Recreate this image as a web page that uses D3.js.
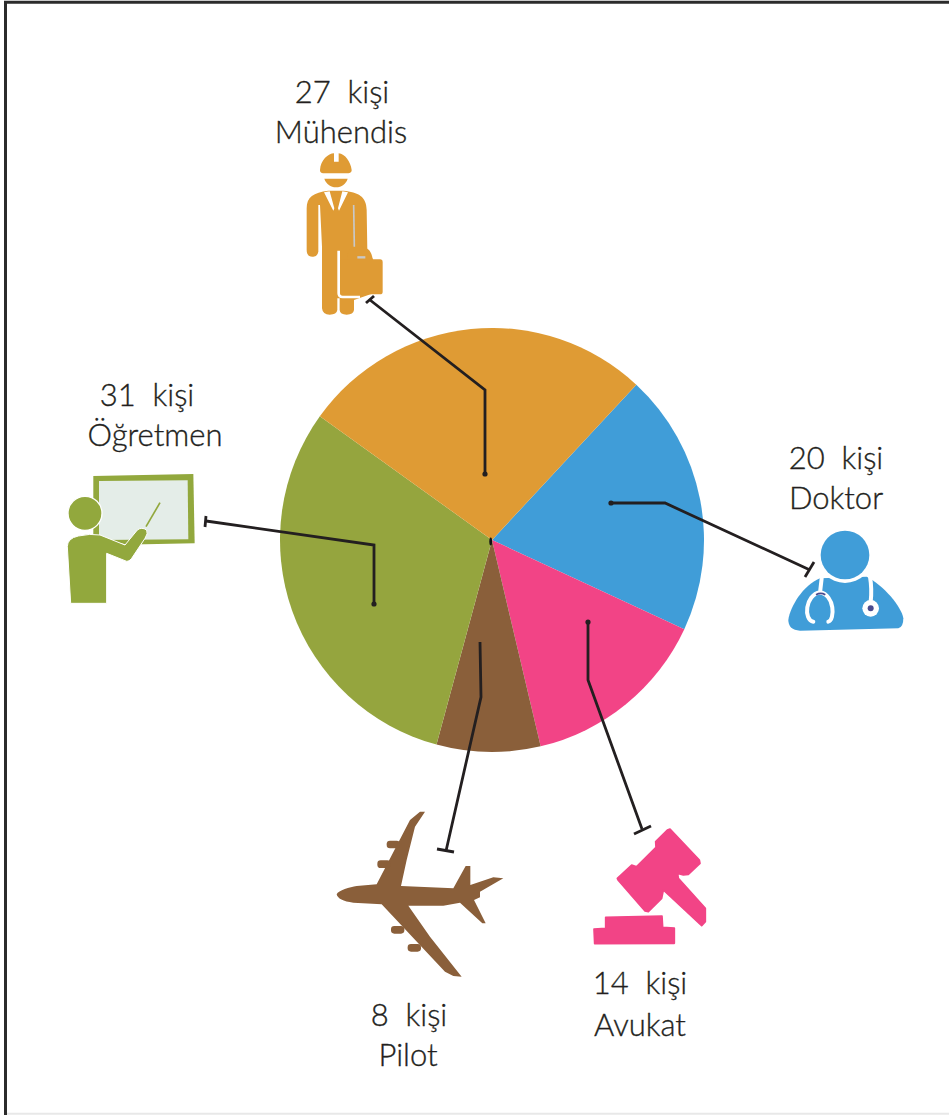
<!DOCTYPE html>
<html>
<head>
<meta charset="utf-8">
<script src="https://cdn.jsdelivr.net/npm/d3@7"></script>
<style>
  html, body { margin: 0; background: #fff; }
  text { font-family: "Lato", sans-serif; font-weight: 300; font-size: 31px; fill: #231f20; stroke: #231f20; stroke-width: 0.35px; text-anchor: middle; white-space: pre; }
</style>
</head>
<body>
<script>
// veriler: pasta dilimleri saat yönünde, Doktor'dan başlıyor
const jobs = ["Doktor", "Avukat", "Pilot", "Öğretmen", "Mühendis"];
const people = [20, 14, 8, 31, 27];
// resimdeki dilimler etiketlerle birebir orantılı değil, açılar
const shares = [20, 14.4, 7.9, 30.7, 27];
const colors = ["#409dd8", "#f24486", "#8a5f3a", "#95a53e", "#df9b34"];

const width = 949, height = 1115;
const cx = 492, cy = 540, radius = 212;
const startDeg = 42.9;

const svg = d3.select("body").append("svg")
  .attr("width", width)
  .attr("height", height)
  .attr("viewBox", [0, 0, width, height])
  .style("display", "block");

// çerçeve
svg.append("path")
  .attr("d", "M7,1113.8H949")
  .attr("stroke", "#e8e8e8")
  .attr("stroke-width", 2);
svg.append("path")
  .attr("d", "M5.5,1115V2.2H949")
  .attr("fill", "none")
  .attr("stroke", "#2b2b2b")
  .attr("stroke-width", 3);

// pasta
const pie = d3.pie().sort(null)
  .startAngle(startDeg * Math.PI / 180)
  .endAngle((startDeg + 360) * Math.PI / 180);
const arc = d3.arc().innerRadius(0).outerRadius(radius);

svg.append("g")
  .attr("transform", `translate(${cx},${cy})`)
  .selectAll("path")
  .data(pie(shares))
  .join("path")
  .attr("d", arc)
  .attr("fill", (d, i) => colors[i]);

// etiketler ve kılavuz çizgileri, jobs sırasıyla
const layout = [
  { label: [836, 469, 836, 509], leader: [[611, 503], [665, 503], [810, 570]], cap: [[814, 562], [805, 577]], dot: true },
  { label: [640, 994, 640, 1036], leader: [[588, 622], [588, 680], [642, 829]], cap: [[634, 834], [651, 826]], dot: true },
  { label: [409, 1026, 408, 1066], leader: [[480, 642], [481, 697], [446, 851]], cap: [[437, 849], [454, 852]], dot: false },
  { label: [147, 406, 155, 446], leader: [[374, 604], [374, 545], [206, 521]], cap: [[206, 516], [205, 527]], dot: true },
  { label: [342, 103, 341, 143], leader: [[485, 474], [485, 390], [370, 300]], cap: [[366, 303], [374, 296]], dot: true }
];

const line = d3.line();
const notes = svg.append("g").selectAll("g").data(layout).join("g");

notes.append("path")
  .attr("d", d => line(d.leader))
  .attr("fill", "none")
  .attr("stroke", "#231f20")
  .attr("stroke-width", 2.8);
notes.append("path")
  .attr("d", d => line(d.cap))
  .attr("stroke", "#231f20")
  .attr("stroke-width", 2.8);
notes.filter(d => d.dot).append("circle")
  .attr("cx", d => d.leader[0][0])
  .attr("cy", d => d.leader[0][1])
  .attr("r", 2.6)
  .attr("fill", "#231f20");

notes.append("text")
  .attr("x", d => d.label[0])
  .attr("y", d => d.label[1])
  .text((d, i) => `${people[i]}  kişi`);
notes.append("text")
  .attr("x", d => d.label[2])
  .attr("y", d => d.label[3])
  .text((d, i) => jobs[i]);

svg.append("ellipse").attr("cx", cx - 1.3).attr("cy", cy + 1.5).attr("rx", 1.4).attr("ry", 4).attr("fill", "#111");

// simgeler: yolların birimi büyütülmüş kırpıntı pikseli (1/3 ölçek)
const icon = (x, y) => svg.append("g").attr("transform", `translate(${x},${y}) scale(${1 / 3})`);

// Mühendis
const eng = icon(260, 60).attr("fill", colors[4]);
eng.append("path").attr("d", "M180,330C182,300 205,280 222,280L222,305L236,305L236,280C255,282 272,305 275,330C275,338 268,340 260,340L195,340C186,340 180,338 180,330Z");
eng.append("path").attr("d", "M193,356L263,356C258,372 245,382 228,382C212,382 198,372 193,356Z");
eng.append("path").attr("d", "M140,445C140,410 160,398 205,392L250,392C295,396 320,410 320,450L322,570L335,590L340,600L340,700L282,720L282,750Q280,764 260,764Q240,764 239,750L239,715L232,715L232,750Q230,764 209,764Q188,764 186,745L186,560L180,435L175,435L175,575Q172,592 157,590Q140,590 140,570Z");
eng.append("path").attr("d", "M192,397L209,394L223,445L220,452ZM264,397L247,394L234,445L237,452Z").attr("fill", "#fff");
eng.append("path").attr("d", "M281,435L283,560").attr("fill", "none").attr("stroke", "#c8c8c8").attr("stroke-width", 5);
eng.append("path").attr("d", "M236,572L236,700Q236,711 248,711L300,711").attr("fill", "none").attr("stroke", "#fff").attr("stroke-width", 8);
eng.append("path").attr("d", "M262,600C262,570 270,560 300,560C325,560 336,575 338,600Z");
eng.append("path").attr("d", "M292,592H316").attr("stroke", "#c8c8c8").attr("stroke-width", 7);
eng.append("rect").attr("x", 241).attr("y", 598).attr("width", 127).attr("height", 105).attr("rx", 8);

// Öğretmen
const tea = icon(50, 370).attr("fill", "#92a83d");
tea.append("path").attr("d", "M130,318L430,312L434,520L285,523L130,525Z");
tea.append("path").attr("d", "M147,333L413,331L415,508L147,510Z").attr("fill", "#e4ede8");
tea.append("path").attr("d", "M288,470L330,398").attr("fill", "none").attr("stroke", "#92a83d").attr("stroke-width", 5);
tea.append("path").attr("d", "M170,512L225,525").attr("fill", "none").attr("stroke", "#fff").attr("stroke-width", 5);
tea.append("circle").attr("cx", 105).attr("cy", 430).attr("r", 51).attr("stroke", "#fff").attr("stroke-width", 4);
tea.append("path").attr("d", "M52,530Q52,505 85,498Q120,490 150,495L225,525L262,480Q275,470 290,480Q295,490 285,505L245,565Q235,578 225,572L170,550L170,700L62,700Z").attr("stroke", "#fff").attr("stroke-width", 3);

// Doktor
const doc = icon(770, 430).attr("fill", colors[0]);
doc.append("path").attr("d", "M55,570C60,530 100,465 150,445L290,440C340,465 395,530 400,565Q400,592 385,595L90,602Q55,600 55,570Z");
doc.append("circle").attr("cx", 225).attr("cy", 375).attr("r", 84).attr("fill", "#fff");
doc.append("circle").attr("cx", 225).attr("cy", 375).attr("r", 73);
doc.append("path").attr("d", "M155,445L150,488M130,575C100,570 105,495 150,487C195,495 195,570 175,575M300,440C305,470 305,490 302,515").attr("fill", "none").attr("stroke", "#fff").attr("stroke-width", 12).attr("stroke-linecap", "round");
doc.append("circle").attr("cx", 302).attr("cy", 535).attr("r", 25).attr("fill", "#fff");
doc.append("circle").attr("cx", 302).attr("cy", 535).attr("r", 9).attr("fill", "#4a4a8e");
doc.append("path").attr("d", "M138,494Q152,486 166,494").attr("fill", "none").attr("stroke", "#4a4a8e").attr("stroke-width", 5);

// Pilot
const pla = icon(320, 800).attr("fill", colors[2]);
pla.append("path").attr("d", "M50,283C55,270 90,262 110,258L170,253L270,60L300,35L315,35L285,80L260,180L243,258L400,265L437,198L451,198L451,255L520,232L550,235L480,275L480,292L462,300L497,370L487,370L420,308L370,317L265,317L330,410L425,530L400,528L375,515L185,313L100,308C70,305 52,295 50,283Z");
[[200, 122], [172, 181], [213, 378], [263, 432]].forEach(([x, y]) => {
  pla.append("rect").attr("x", x).attr("y", y).attr("width", 40).attr("height", 23).attr("rx", 10);
});

// Avukat
const gav = icon(580, 810).attr("fill", colors[1]).attr("stroke", colors[1]).attr("stroke-width", 5).attr("stroke-linejoin", "round");
gav.append("path").attr("d", "M270,57L358,150L360,160L325,193L310,195L293,190L295,205L376,295L376,335L365,347L250,240L245,265L205,305L195,303L114,210L112,205L155,165L170,170L228,112L227,95L262,60Z");
gav.append("path").attr("d", "M77,322L246,318L248,352L283,354L283,400L44,401L42,357L77,355Z");
</script>
</body>
</html>
